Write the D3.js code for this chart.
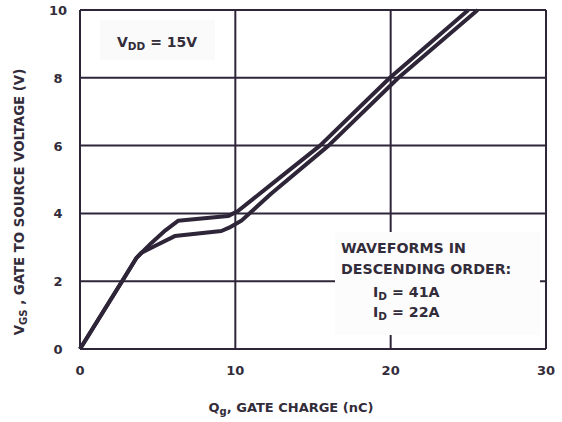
<!DOCTYPE html>
<html>
<head>
<meta charset="utf-8">
<script src="https://cdn.jsdelivr.net/npm/d3@7"></script>
<style>
  body { margin: 0; background: #fff; }
  svg text { font-family: "DejaVu Sans", sans-serif; font-weight: bold; fill: #332c3a; }
</style>
</head>
<body>
<svg width="562" height="422"></svg>
<script>
// gate charge (nC) vs gate-source voltage (V)
var qg41 = [0, 2.78, 3.64, 4.6, 5.5, 6.31, 9.53, 10.17, 12.3, 15.45, 19.95, 25.0];
var vgs41 = [0, 2.05, 2.69, 3.13, 3.5, 3.78, 3.92, 4.07, 4.85, 6.0, 8.0, 10.0];
var qg22 = [0, 2.78, 3.64, 3.96, 4.82, 6.1, 9.1, 9.6, 10.38, 12.3, 16.0, 20.5, 25.6];
var vgs22 = [0, 2.05, 2.69, 2.84, 3.04, 3.33, 3.48, 3.58, 3.78, 4.58, 6.0, 8.0, 10.0];
var xTicks = [0, 10, 20, 30];
var yTicks = [0, 2, 4, 6, 8, 10];

var ink = "#2e2638";
var svg = d3.select("svg");

var x = d3.scaleLinear().domain([0, 30]).range([80, 546]);
var y = d3.scaleLinear().domain([0, 10]).range([349, 10]);

// grid
svg.append("g").selectAll("line")
    .data(xTicks)
    .enter().append("line")
    .attr("x1", d => x(d)).attr("x2", d => x(d))
    .attr("y1", y(0)).attr("y2", y(10))
    .attr("stroke", ink).attr("stroke-width", 2);
svg.append("g").selectAll("line")
    .data(yTicks)
    .enter().append("line")
    .attr("x1", x(0)).attr("x2", x(30))
    .attr("y1", d => y(d)).attr("y2", d => y(d))
    .attr("stroke", ink).attr("stroke-width", 2);

// tick labels
svg.append("g").selectAll("text")
    .data(xTicks)
    .enter().append("text")
    .attr("x", d => x(d)).attr("y", 375)
    .attr("text-anchor", "middle")
    .attr("font-size", 13)
    .text(d => d);
svg.append("g").selectAll("text")
    .data(yTicks)
    .enter().append("text")
    .attr("x", 58).attr("y", d => y(d) + 5)
    .attr("text-anchor", "middle")
    .attr("font-size", 13)
    .text(d => d);

// label boxes (they hide the grid behind them)
svg.append("rect").attr("x", 100).attr("y", 20).attr("width", 115).attr("height", 40).attr("fill", "#fafafa");
svg.append("rect").attr("x", 335).attr("y", 232).attr("width", 205).attr("height", 103).attr("fill", "#fcfcfc");

// curves
var line = d3.line()
    .x(d => x(d[0]))
    .y(d => y(d[1]));
var series = [d3.zip(qg41, vgs41), d3.zip(qg22, vgs22)];
svg.append("g").selectAll("path")
    .data(series)
    .enter().append("path")
    .attr("d", line)
    .attr("fill", "none")
    .attr("stroke", ink)
    .attr("stroke-width", 4)
    .attr("stroke-linejoin", "round");

// texts
var vdd = svg.append("text").attr("x", 117).attr("y", 47).attr("font-size", 14);
vdd.append("tspan").text("V");
vdd.append("tspan").attr("font-size", 10.5).attr("dy", 3).text("DD");
vdd.append("tspan").attr("dy", -3).text(" = 15V");

svg.append("text").attr("x", 341).attr("y", 253).attr("font-size", 14.2).text("WAVEFORMS IN");
svg.append("text").attr("x", 341).attr("y", 274).attr("font-size", 14.2).text("DESCENDING ORDER:");
["41A", "22A"].forEach(function(v, i) {
    var t = svg.append("text").attr("x", 373).attr("y", 297 + i * 20).attr("font-size", 14.2);
    t.append("tspan").text("I");
    t.append("tspan").attr("font-size", 10.5).attr("dy", 3).text("D");
    t.append("tspan").attr("dy", -3).text(" = " + v);
});

var xl = svg.append("text").attr("x", 291).attr("y", 412).attr("text-anchor", "middle").attr("font-size", 13);
xl.append("tspan").text("Q");
xl.append("tspan").attr("font-size", 10).attr("dy", 3).text("g");
xl.append("tspan").attr("dy", -3).text(", GATE CHARGE (nC)");

var yl = svg.append("text").attr("transform", "translate(24,202) rotate(-90)")
    .attr("text-anchor", "middle").attr("font-size", 13.3);
yl.append("tspan").text("V");
yl.append("tspan").attr("font-size", 10).attr("dy", 3).text("GS");
yl.append("tspan").attr("dy", -3).text(" , GATE TO SOURCE VOLTAGE (V)");
</script>
</body>
</html>
